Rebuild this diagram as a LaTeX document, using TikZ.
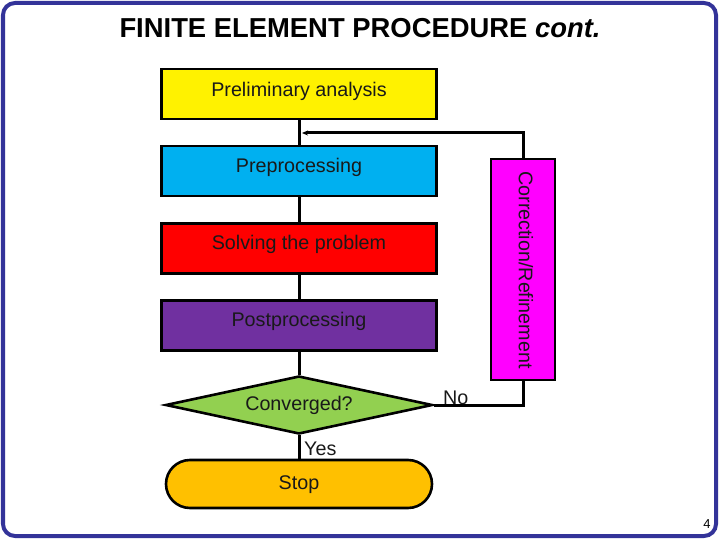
\documentclass[tikz,border=0pt]{standalone}
\usepackage{fontspec}
\setmainfont{Liberation Sans}
\usetikzlibrary{shapes.geometric,arrows.meta}
\definecolor{frameblue}{RGB}{51,51,153}
\definecolor{cyanbox}{RGB}{0,176,240}
\definecolor{purplebox}{RGB}{112,48,160}
\definecolor{greenbox}{RGB}{146,208,80}
\definecolor{orangebox}{RGB}{255,192,0}
\definecolor{magentabox}{RGB}{255,0,255}
\begin{document}
\begin{tikzpicture}[x=1bp,y=-1bp,
  stepbox/.style={draw=black,line width=2.6bp,minimum width=275bp,minimum height=50bp,inner sep=0pt},
  lbl/.style={font=\fontsize{19.8}{22}\selectfont,text=black!90},
  conn/.style={line width=3bp,black}]
\useasboundingbox (0,0) rectangle (720,540);
\draw[frameblue,line width=4bp,rounded corners=12bp] (3,3) rectangle (716,536);
\node[font=\fontsize{27.5}{30}\selectfont\bfseries] (title) at (360,28.5) {FINITE ELEMENT PROCEDURE \textit{cont.}};
\node[stepbox,fill=yellow] (pre) at (299,94) {};
\node[lbl] (tpre) at (299,91.5) {Preliminary analysis};
\node[stepbox,fill=cyanbox] (prep) at (299,171) {};
\node[lbl] (tprep) at (299,167.5) {Preprocessing};
\node[stepbox,fill=red] (solve) at (299,248.5) {};
\node[lbl] (tsolve) at (299,244.5) {Solving the problem};
\node[stepbox,fill=purplebox] (post) at (299,325.5) {};
\node[lbl] (tpost) at (299,321.5) {Postprocessing};
\node[diamond,draw=black,line width=2.6bp,fill=greenbox,minimum width=267bp,minimum height=58bp,inner sep=0pt,aspect=4.6] (conv) at (299,405) {};
\node[lbl] (tconv) at (299,405) {Converged?};
\node[draw=black,line width=2.6bp,fill=orangebox,minimum width=266bp,minimum height=48bp,rounded corners=24bp,inner sep=0pt] (stop) at (299,484) {};
\node[lbl] (tstop) at (299,485) {Stop};
\node[draw=black,line width=2.6bp,fill=magentabox,minimum width=64bp,minimum height=221bp,inner sep=0pt] (corr) at (523,269.5) {};
\node[lbl,rotate=-90] (tcorr) at (526,270) {Correction/Refinement};
\coordinate (fb) at (302,133);
\draw[conn] (pre.south) -- (prep.north);
\draw[conn] (prep.south) -- (solve.north);
\draw[conn] (solve.south) -- (post.north);
\draw[conn] (post.south) -- (conv.north);
\draw[conn] (conv.south) -- (stop.north);
\draw[conn] (conv.east) -| (corr.south);
\draw[conn,-{Stealth[length=6bp,width=5bp]}] (corr.north) |- (fb);
\node[lbl,anchor=west,inner sep=0pt] (no) at (443,398) {No};
\node[lbl,anchor=west,inner sep=0pt] (yes) at (304,449) {Yes};
\node[inner sep=0pt] (pg) at (707,524) {\fontsize{13}{15}\selectfont 4};
\end{tikzpicture}
\end{document}
